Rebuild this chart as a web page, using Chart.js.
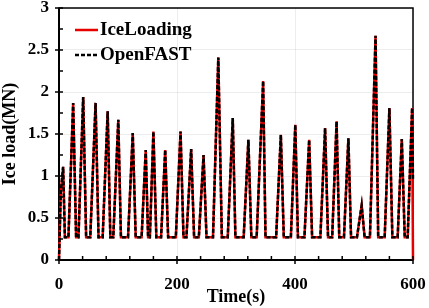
<!DOCTYPE html>
<html>
<head>
<meta charset="utf-8">
<script src="https://cdn.jsdelivr.net/npm/chart.js@4.4.0/dist/chart.umd.min.js"></script>
<style>
  html, body { margin: 0; padding: 0; background: #fff; }
</style>
</head>
<body>
<canvas id="chart" width="429" height="308"></canvas>
<script>
// Points: time (s), load (MN)
const time = [
    0, 3, 7, 10, 16, 24, 29, 33, 41, 46, 53, 62, 67, 74, 82.5, 87, 92, 100.5, 105,
    117, 125, 130, 140, 147, 151, 154, 160, 165, 173, 180, 185, 198, 206, 211,
    216, 224, 229, 237, 245, 250, 261, 270, 276, 286, 294.5, 299, 313, 321, 326,
    335, 346, 350, 368, 376, 381, 393, 400.5, 405, 416, 424, 429, 443, 451, 456,
    463, 470.5, 475, 483, 490.5, 495, 505, 513, 518, 527, 536.5, 541, 552, 560, 565,
    574, 581, 586, 591, 598.5, 600
];
const iceLoad = [
    0, 0.8, 1.11, 0.27, 0.27, 1.87, 0.27, 0.27, 1.94, 0.27, 0.27, 1.87, 0.27, 0.27, 1.77, 0.27, 0.27, 1.67, 0.27,
    0.27, 1.51, 0.27, 0.27, 1.31, 0.27, 0.27, 1.53, 0.27, 0.27, 1.31, 0.27, 0.27, 1.53, 0.27,
    0.27, 1.32, 0.27, 0.27, 1.25, 0.27, 0.27, 2.41, 0.27, 0.27, 1.69, 0.27, 0.27, 1.43, 0.27,
    0.27, 2.13, 0.27, 0.27, 1.49, 0.27, 0.27, 1.61, 0.27, 0.27, 1.43, 0.27, 0.27, 1.57, 0.27,
    0.27, 1.65, 0.27, 0.27, 1.45, 0.27, 0.27, 0.65, 0.27, 0.27, 2.67, 0.27, 0.27, 1.81, 0.27,
    0.27, 1.44, 0.27, 0.27, 1.81, 0
];
const fastLoad = [
    0, 0.8, 1.11, 0.27, 0.27, 1.87, 0.27, 0.27, 1.94, 0.27, 0.27, 1.87, 0.27, 0.27, 1.77, 0.27, 0.27, 1.67, 0.27,
    0.27, 1.51, 0.27, 0.27, 1.31, 0.27, 0.27, 1.53, 0.27, 0.27, 1.31, 0.27, 0.27, 1.53, 0.27,
    0.27, 1.32, 0.27, 0.27, 1.25, 0.27, 0.27, 2.41, 0.27, 0.27, 1.69, 0.27, 0.27, 1.43, 0.27,
    0.27, 2.13, 0.27, 0.27, 1.49, 0.27, 0.27, 1.61, 0.27, 0.27, 1.43, 0.27, 0.27, 1.57, 0.27,
    0.27, 1.65, 0.27, 0.27, 1.45, 0.27, 0.27, 0.65, 0.27, 0.27, 2.67, 0.27, 0.27, 1.81, 0.27,
    0.27, 1.44, 0.27, 0.27, 1.81, 0.95
];
const seriesNames = ['IceLoading', 'OpenFAST'];
const xTicks = [0, 200, 400, 600];
const yTicks = [0, 0.5, 1, 1.5, 2, 2.5, 3];

const serif = 'Liberation Serif, Times New Roman, serif';
const toPoints = (xs, ys) => xs.map((x, i) => ({ x, y: ys[i] }));

// no extra room for overhanging tick labels, the padding below fixes the plot box
const noPad = s => {
    s.paddingLeft = 0;
    s.paddingRight = 0;
    s.paddingTop = 0;
    s.paddingBottom = 0;
};

// frame, tick marks and the legend inside the plot
const decor = {
    id: 'decor',
    beforeDatasetsDraw(chart) {
        const { ctx, chartArea: a } = chart;
        ctx.save();
        ctx.strokeStyle = '#000';
        ctx.lineWidth = 1.5;
        ctx.strokeRect(a.left, a.top, a.right - a.left, a.bottom - a.top);
        ctx.lineWidth = 2;
        ctx.beginPath();
        ctx.moveTo(a.left, a.top);
        ctx.lineTo(a.left, a.bottom);
        ctx.lineTo(a.right, a.bottom);
        ctx.stroke();
        ctx.restore();
    },
    afterDraw(chart) {
        const { ctx, chartArea: a, scales } = chart;
        ctx.save();
        ctx.strokeStyle = '#000';
        ctx.lineWidth = 1.5;
        ctx.beginPath();
        for (let t = 0; t <= 600; t += 40) {
            const px = scales.x.getPixelForValue(t);
            const major = t % 200 === 0;
            ctx.moveTo(px, a.bottom + (major ? 4 : 0));
            ctx.lineTo(px, a.bottom - 4);
        }
        for (let v = 0; v <= 3; v += 0.25) {
            const py = scales.y.getPixelForValue(v);
            const major = Math.abs(v * 2 - Math.round(v * 2)) < 1e-6;
            ctx.moveTo(a.left - (major ? 4 : 0), py);
            ctx.lineTo(a.left + 4, py);
        }
        ctx.stroke();

        // legend
        ctx.font = 'bold 19px ' + serif;
        ctx.textBaseline = 'middle';
        ctx.fillStyle = '#000';
        ctx.lineWidth = 2.5;
        ctx.strokeStyle = 'rgb(230,0,0)';
        ctx.beginPath();
        ctx.moveTo(75, 30);
        ctx.lineTo(98, 30);
        ctx.stroke();
        ctx.fillText(seriesNames[0], 100, 30);
        ctx.strokeStyle = '#000';
        ctx.setLineDash([4, 2]);
        ctx.beginPath();
        ctx.moveTo(75, 55);
        ctx.lineTo(98, 55);
        ctx.stroke();
        ctx.setLineDash([]);
        ctx.fillText(seriesNames[1], 100, 55);
        ctx.restore();
    }
};

new Chart(document.getElementById('chart'), {
    type: 'line',
    data: {
        datasets: [
            {
                label: seriesNames[0],
                data: toPoints(time, iceLoad),
                borderColor: 'rgb(230,0,0)',
                borderWidth: 2.5,
                pointRadius: 0,
                tension: 0,
                clip: 4,
                order: 1
            },
            {
                label: seriesNames[1],
                data: toPoints(time, fastLoad),
                borderColor: '#000',
                borderWidth: 2.5,
                borderDash: [4, 2],
                pointRadius: 0,
                tension: 0,
                clip: 4,
                order: 0
            }
        ]
    },
    options: {
        responsive: false,
        animation: false,
        layout: { padding: { top: 8, right: 16, left: 0, bottom: 0 } },
        plugins: {
            legend: { display: false },
            tooltip: { enabled: false }
        },
        scales: {
            x: {
                type: 'linear',
                min: 0,
                max: 600,
                afterBuildTicks: s => { s.ticks = xTicks.map(value => ({ value })); },
                afterFit: s => { s.height = 48; noPad(s); },
                grid: { color: 'rgba(0,0,0,0.07)', drawTicks: false },
                border: { display: false },
                ticks: { color: '#000', padding: 14, font: { family: serif, weight: 'bold', size: 17 } },
                title: {
                    display: true,
                    text: 'Time(s)',
                    color: '#000',
                    padding: { top: 0, bottom: 0 },
                    font: { family: serif, weight: 'bold', size: 18 }
                }
            },
            y: {
                type: 'linear',
                min: 0,
                max: 3,
                afterBuildTicks: s => { s.ticks = yTicks.map(value => ({ value })); },
                afterFit: s => { s.width = 59; noPad(s); },
                grid: { color: 'rgba(0,0,0,0.07)', drawTicks: false },
                border: { display: false },
                ticks: {
                    color: '#000',
                    padding: 10,
                    callback: v => String(v),
                    font: { family: serif, weight: 'bold', size: 17 }
                },
                title: {
                    display: true,
                    text: 'Ice load(MN)',
                    color: '#000',
                    padding: { top: 0, bottom: 0 },
                    font: { family: serif, weight: 'bold', size: 18 }
                }
            }
        }
    },
    plugins: [decor]
});
</script>
</body>
</html>
